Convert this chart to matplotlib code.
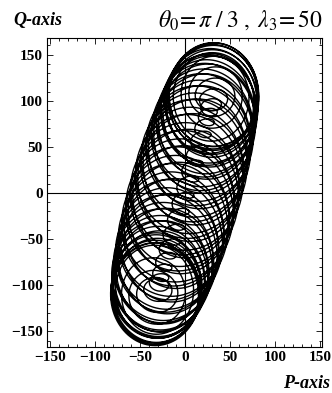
import numpy as np
import matplotlib.pyplot as plt
from matplotlib.ticker import MultipleLocator

# values
p_lim = (-153, 152)
q_lim = (-167, 168)
p_ticks = [-150, -100, -50, 0, 50, 100, 150]
q_ticks = [-150, -100, -50, 0, 50, 100, 150]
upper_centre = (32.0, 107.0)    # centre of the ring stack at the top
lower_centre = (-33.0, -110.0)  # centre of the ring stack at the bottom
# circle radius on each swing between the two ring stacks
swing_radius = [66, 12, 68, 64]
circles_per_swing = 19.3
mid_widening = 0.20
ring_shape = (0.90, 1.02)
flat_small_rings = 0.45   # small rings are about half as tall as wide
turn_width = 0.2   # part of a swing spent changing radius at a turning point

plt.rcParams['mathtext.fontset'] = 'stix'
fig = plt.figure(figsize=(3.32, 3.93), dpi=100)
ax = fig.add_axes([0.1416, 0.117, 0.828, 0.786])

# trajectory: slow swing between the two ring stacks plus fast circling
n_sw = len(swing_radius)
u = np.linspace(0, n_sw, 40000)
s = -np.cos(np.pi * u)
mid = (np.array(upper_centre) + np.array(lower_centre)) / 2
half = (np.array(upper_centre) - np.array(lower_centre)) / 2
rad = np.array(swing_radius, dtype=float)
k = np.clip(np.round(u).astype(int), 1, n_sw - 1)   # nearest inner turning point
x = np.clip((u - k) / turn_width, -1, 1)
step = 0.5 + 0.5 * np.sin(0.5 * np.pi * x)
r = rad[k - 1] + (rad[k] - rad[k - 1]) * step
squash = flat_small_rings + (1 - flat_small_rings) * np.minimum(r / 50, 1)
r = r * (1 + mid_widening * (1 - s ** 2)) / (1 + mid_widening)
phi = 2 * np.pi * circles_per_swing * u
P = mid[0] + s * half[0] + ring_shape[0] * r * np.cos(phi)
Q = mid[1] + s * half[1] + ring_shape[1] * squash * r * np.sin(phi)
ax.plot(P, Q, color='black', lw=1.0)

ax.axhline(0, color='black', lw=0.8)
ax.axvline(0, color='black', lw=0.8)
ax.set_xlim(p_lim)
ax.set_ylim(q_lim)
ax.set_xticks(p_ticks)
ax.set_yticks(q_ticks)
ax.xaxis.set_minor_locator(MultipleLocator(10))
ax.yaxis.set_minor_locator(MultipleLocator(10))
ax.tick_params(which='both', direction='in', top=True, right=True, width=0.6)
ax.tick_params(which='major', length=4, pad=3)
ax.tick_params(which='minor', length=2)
for lab in ax.get_xticklabels() + ax.get_yticklabels():
    lab.set_fontfamily('Liberation Serif')
    lab.set_fontweight('bold')
    lab.set_fontsize(11)
for sp in ax.spines.values():
    sp.set_linewidth(0.8)

fig.text(0.04, 0.949, 'Q-axis', family='Liberation Serif', weight='bold',
         style='italic', fontsize=13, va='center')
fig.text(0.972, 0.949, r'$\theta_0\!=\pi\;/\;3\;,\;\lambda_3\!=50$',
         fontsize=17, ha='right', va='center')
fig.text(0.994, 0.025, 'P-axis', family='Liberation Serif', weight='bold',
         style='italic', fontsize=13, ha='right', va='center')

fig.savefig('out.png', dpi=100)
